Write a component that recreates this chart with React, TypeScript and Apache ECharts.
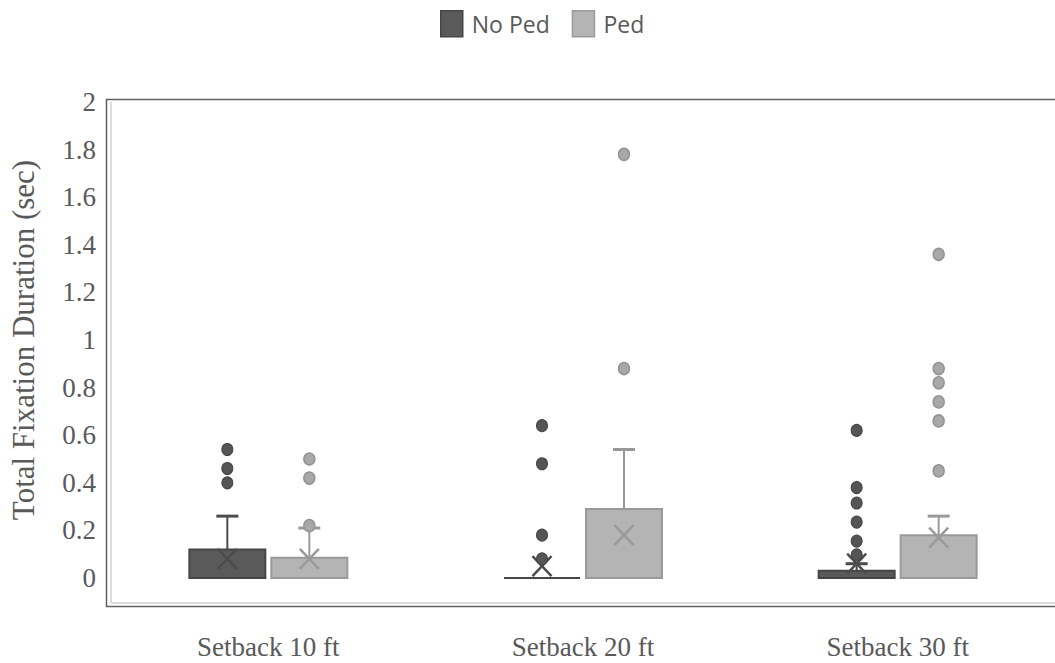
import React, { useEffect, useRef } from "react";
import * as echarts from "echarts";

const categories = ["Setback 10 ft", "Setback 20 ft", "Setback 30 ft"];

// box statistics per category
const noPedQ1 = [0, 0, 0];
const noPedMedian = [0, 0, 0];
const noPedQ3 = [0.12, 0, 0.03];
const noPedWhiskerMax = [0.26, 0, 0.06];
const noPedMean = [0.08, 0.05, 0.06];

const pedQ1 = [0, 0, 0];
const pedMedian = [0, 0, 0];
const pedQ3 = [0.085, 0.29, 0.18];
const pedWhiskerMax = [0.21, 0.54, 0.26];
const pedMean = [0.08, 0.18, 0.17];

// outliers per category
const noPedOutliers = [
  [0.54, 0.46, 0.4],
  [0.64, 0.48, 0.18, 0.08],
  [0.62, 0.38, 0.315, 0.235, 0.155, 0.097],
];
const pedOutliers = [
  [0.5, 0.42, 0.22],
  [1.78, 0.88],
  [1.36, 0.88, 0.82, 0.74, 0.66, 0.45],
];

const yTicks = [0, 0.2, 0.4, 0.6, 0.8, 1, 1.2, 1.4, 1.6, 1.8, 2];

const NOPED_FILL = "#5a5a5a";
const NOPED_LINE = "#464646";
const PED_FILL = "#b4b4b4";
const PED_LINE = "#999999";
const TEXT = "#595959";

function boxRows(q1: number[], med: number[], q3: number[], wmax: number[], mean: number[]) {
  return categories.map((_, i) => [i, q1[i], med[i], q3[i], wmax[i], mean[i]]);
}

function outlierRows(list: number[][]) {
  const rows: number[][] = [];
  list.forEach((vals, i) => vals.forEach((v) => rows.push([i, v])));
  return rows;
}

function makeRender(offset: number, fill: string, stroke: string, xColor: string) {
  return (params: any, api: any) => {
    const idx = api.value(0);
    const q1 = api.value(1);
    const med = api.value(2);
    const q3 = api.value(3);
    const wmax = api.value(4);
    const mean = api.value(5);
    const p1 = api.coord([idx, q1]);
    const x = p1[0] + offset;
    const yQ1 = p1[1];
    const yMed = api.coord([idx, med])[1];
    const yQ3 = api.coord([idx, q3])[1];
    const yW = api.coord([idx, wmax])[1];
    const yM = api.coord([idx, mean])[1];
    const half = 38;
    const children: any[] = [];
    if (wmax > q3) {
      children.push({
        type: "line",
        shape: { x1: x, y1: yQ3, x2: x, y2: yW },
        style: { stroke: xColor, lineWidth: 2 },
      });
      children.push({
        type: "line",
        shape: { x1: x - 11, y1: yW, x2: x + 11, y2: yW },
        style: { stroke: xColor, lineWidth: 3 },
      });
    }
    children.push({
      type: "rect",
      shape: { x: x - half, y: yQ3, width: half * 2, height: Math.max(yQ1 - yQ3, 0) },
      style: { fill, stroke, lineWidth: 2 },
    });
    children.push({
      type: "line",
      shape: { x1: x - half, y1: yMed, x2: x + half, y2: yMed },
      style: { stroke, lineWidth: 2 },
    });
    children.push({
      type: "line",
      shape: { x1: x - 9.5, y1: yM - 10, x2: x + 9.5, y2: yM + 10 },
      style: { stroke: xColor, lineWidth: 2.5 },
    });
    children.push({
      type: "line",
      shape: { x1: x + 9.5, y1: yM - 10, x2: x - 9.5, y2: yM + 10 },
      style: { stroke: xColor, lineWidth: 2.5 },
    });
    return { type: "group", children };
  };
}

export default function App() {
  const ref = useRef<HTMLDivElement>(null);
  useEffect(() => {
    if (!ref.current) return;
    const chart = echarts.init(ref.current, undefined, { renderer: "svg" });
    const option: any = {
      animation: false,
      backgroundColor: "#ffffff",
      legend: {
        left: 435,
        top: 5,
        itemWidth: 22,
        itemHeight: 26,
        itemGap: 22,
        icon: "rect",
        textStyle: {
          fontFamily: "Open Sans",
          fontSize: 23,
          color: TEXT,
          padding: [0, 0, 0, 4],
        },
        data: [
          { name: "No Ped", itemStyle: { color: NOPED_FILL, borderColor: NOPED_LINE, borderWidth: 1.5 } },
          { name: "Ped", itemStyle: { color: PED_FILL, borderColor: PED_LINE, borderWidth: 1.5 } },
        ],
      },
      grid: { left: 107, top: 102, width: 954, bottom: 85, containLabel: false },
      xAxis: {
        type: "category",
        data: categories,
        axisLine: { show: false },
        axisTick: { show: false },
        splitLine: { show: false },
        axisLabel: {
          margin: 55,
          fontFamily: "Liberation Serif",
          fontSize: 27,
          color: TEXT,
        },
      },
      yAxis: {
        type: "value",
        min: 0,
        max: 2,
        interval: 0.2,
        axisLine: { show: false },
        axisTick: { show: false },
        splitLine: { show: false },
        axisLabel: {
          margin: 15,
          fontFamily: "Liberation Serif",
          fontSize: 27,
          color: TEXT,
          formatter: (v: number) => {
            const t = yTicks.find((k) => Math.abs(k - v) < 1e-6);
            return t === undefined ? "" : String(t);
          },
        },
        name: "Total Fixation Duration (sec)",
        nameLocation: "middle",
        nameGap: 72,
        nameTextStyle: {
          fontFamily: "Liberation Serif",
          fontSize: 31,
          color: TEXT,
        },
      },
      graphic: [
        {
          type: "rect",
          silent: true,
          z: -1,
          shape: { x: 106.5, y: 99.5, width: 960, height: 507 },
          style: { fill: "none", stroke: "#5f5f5f", lineWidth: 1.5 },
        },
        {
          type: "line",
          silent: true,
          z: -1,
          shape: { x1: 111, y1: 102, x2: 111, y2: 603 },
          style: { stroke: "#dcdcdc", lineWidth: 2 },
        },
        {
          type: "line",
          silent: true,
          z: -1,
          shape: { x1: 111, y1: 603, x2: 1060, y2: 603 },
          style: { stroke: "#dcdcdc", lineWidth: 2 },
        },
      ],
      series: [
        {
          name: "No Ped",
          type: "custom",
          itemStyle: { color: NOPED_FILL },
          renderItem: makeRender(-41, NOPED_FILL, NOPED_LINE, "#4c4c4c"),
          encode: { x: 0, y: [1, 2, 3, 4, 5] },
          data: boxRows(noPedQ1, noPedMedian, noPedQ3, noPedWhiskerMax, noPedMean),
          z: 2,
        },
        {
          name: "Ped",
          type: "custom",
          itemStyle: { color: PED_FILL },
          renderItem: makeRender(41, PED_FILL, PED_LINE, "#9a9a9a"),
          encode: { x: 0, y: [1, 2, 3, 4, 5] },
          data: boxRows(pedQ1, pedMedian, pedQ3, pedWhiskerMax, pedMean),
          z: 2,
        },
        {
          name: "No Ped",
          type: "scatter",
          symbol: "circle",
          symbolSize: [11, 12],
          symbolOffset: [-41, 0],
          itemStyle: { color: "#555555", borderColor: "#444444", borderWidth: 1, opacity: 1 },
          data: outlierRows(noPedOutliers),
          z: 3,
        },
        {
          name: "Ped",
          type: "scatter",
          symbol: "circle",
          symbolSize: [11, 12],
          symbolOffset: [41, 0],
          itemStyle: { color: "#a8a8a8", borderColor: "#939393", borderWidth: 1.5, opacity: 1 },
          data: outlierRows(pedOutliers),
          z: 3,
        },
      ],
    };
    chart.setOption(option);
    return () => chart.dispose();
  }, []);
  return (
    <div
      ref={ref}
      style={{ position: "absolute", left: 0, top: 0, width: 1055, height: 663 }}
    />
  );
}
